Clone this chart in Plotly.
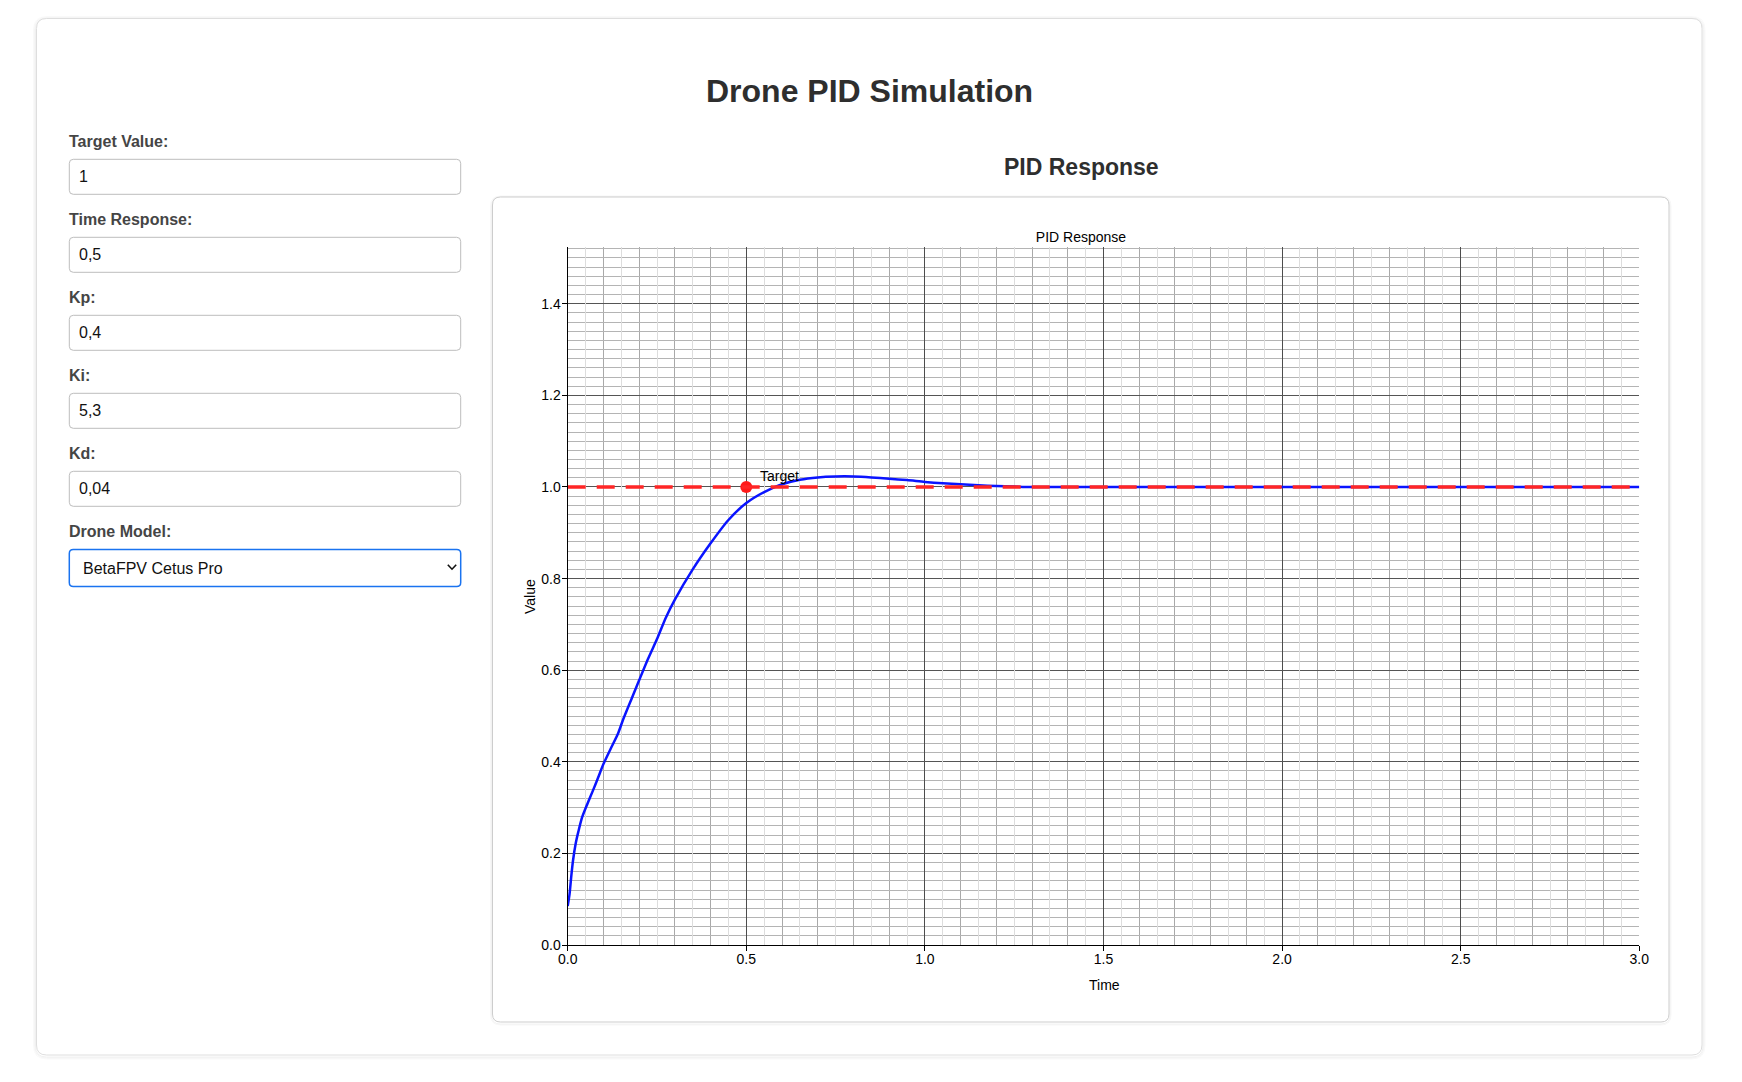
import plotly.graph_objects as go

# page texts
page_title = "Drone PID Simulation"
section_title = "PID Response"
field_labels = ["Target Value:", "Time Response:", "Kp:", "Ki:", "Kd:", "Drone Model:"]
field_values = ["1", "0,5", "0,4", "5,3", "0,04"]
drone_model = "BetaFPV Cetus Pro"

# chart data
time = [0.0, 0.005, 0.01, 0.015, 0.0225, 0.03, 0.04, 0.055, 0.07, 0.085, 0.1, 0.12,
        0.14, 0.156, 0.18, 0.2, 0.225, 0.25, 0.275, 0.3, 0.35, 0.4, 0.45, 0.5, 0.55,
        0.6, 0.65, 0.7, 0.75, 0.8, 0.85, 0.9, 0.95, 1.0, 1.05, 1.1, 1.15, 1.2, 1.25,
        1.3, 1.4, 1.5, 1.75, 2.0, 2.25, 2.5, 2.75, 3.0]
response = [0.085, 0.11, 0.15, 0.185, 0.222, 0.248, 0.278, 0.308, 0.336, 0.365, 0.395, 0.428,
            0.46, 0.494, 0.54, 0.578, 0.625, 0.668, 0.715, 0.754, 0.82, 0.877, 0.928, 0.965, 0.989,
            1.006, 1.016, 1.021, 1.023, 1.023, 1.021, 1.018, 1.015, 1.011, 1.008, 1.006, 1.004, 1.002, 1.001,
            1.0, 1.0, 1.0, 1.0, 1.0, 1.0, 1.0, 1.0, 1.0]
target_value = 1.0
target_time = 0.5
time_span = [0.0, 3.0]
value_span = [0.0, 1.524]

W, H = 1742, 1082
FONT = "Liberation Sans, Arial, Helvetica, sans-serif"


def px(x):
    return x / W


def py(y):
    return 1 - y / H


def rrect(x0, y0, x1, y1, r, line, fill="white", width=1, layer="below"):
    rx, ry = r / W, r / H
    X0, X1, YT, YB = px(x0), px(x1), py(y0), py(y1)
    path = (f"M {X0+rx},{YT} L {X1-rx},{YT} Q {X1},{YT} {X1},{YT-ry} "
            f"L {X1},{YB+ry} Q {X1},{YB} {X1-rx},{YB} L {X0+rx},{YB} "
            f"Q {X0},{YB} {X0},{YB+ry} L {X0},{YT-ry} Q {X0},{YT} {X0+rx},{YT} Z")
    return dict(type="path", path=path, xref="paper", yref="paper",
                line=dict(color=line, width=width), fillcolor=fill, layer=layer)


fig = go.Figure()

fig.add_trace(go.Scatter(x=time, y=response, mode="lines",
                         line=dict(color="#0a14ff", width=2.5, shape="spline", smoothing=0.7),
                         hoverinfo="skip"))
fig.add_trace(go.Scatter(x=time_span, y=[target_value, target_value], mode="lines",
                         xaxis="x2", line=dict(color="#ff2626", width=3.5, dash="18px,11px"),
                         hoverinfo="skip"))
fig.add_trace(go.Scatter(x=[target_time], y=[target_value], mode="markers",
                         marker=dict(color="#ff1a1a", size=12), hoverinfo="skip"))

shapes = []
# outer card with a soft shadow
for i, a in enumerate([0.025, 0.04, 0.06]):
    d = 3 - i
    shapes.append(rrect(36.5 - d, 18.5 - d + 1, 1702 + d, 1055 + d + 1, 10 + d,
                        f"rgba(0,0,0,{a})", fill="rgba(0,0,0,0)"))
shapes.append(rrect(36.5, 18.5, 1702, 1055, 10, "#dedede"))
# chart card
for i, a in enumerate([0.03, 0.05]):
    d = 2 - i
    shapes.append(rrect(492.5 - d, 197 - d + 1, 1669 + d, 1022 + d + 1, 8 + d,
                        f"rgba(0,0,0,{a})", fill="rgba(0,0,0,0)"))
shapes.append(rrect(492.5, 197, 1669, 1022, 8, "#cdcdcd"))
# input boxes
for i in range(len(field_values)):
    top = 159.3 + 78 * i
    shapes.append(rrect(69.3, top, 460.7, top + 35, 4, "#bdbdbd", layer="above"))
# select box
shapes.append(rrect(69.3, 549.5, 460.7, 586.5, 4, "#1a73f0", width=1.5, layer="above"))
shapes.append(dict(type="path", xref="paper", yref="paper", layer="above",
                   path=f"M {px(447.8)},{py(564.8)} L {px(452)},{py(569.2)} L {px(456.2)},{py(564.8)}",
                   line=dict(color="#111", width=1.6)))

ann = []
ann.append(dict(text=f"<b>{page_title}</b>", x=px(869), y=py(90.5), xref="paper", yref="paper",
                xanchor="center", yanchor="middle", showarrow=False,
                font=dict(family=FONT, size=32, color="#2e2e2e")))
ann.append(dict(text=f"<b>{section_title}</b>", x=px(1081), y=py(167), xref="paper", yref="paper",
                xanchor="center", yanchor="middle", showarrow=False,
                font=dict(family=FONT, size=23, color="#2e2e2e")))
for i, lab in enumerate(field_labels):
    ann.append(dict(text=f"<b>{lab}</b>", x=px(66.5), y=py(141.7 + 78 * i), xref="paper", yref="paper",
                    xanchor="left", yanchor="middle", showarrow=False,
                    font=dict(family=FONT, size=16, color="#454545")))
for i, val in enumerate(field_values):
    ann.append(dict(text=val, x=px(76.5), y=py(176.5 + 78 * i), xref="paper", yref="paper",
                    xanchor="left", yanchor="middle", showarrow=False,
                    font=dict(family=FONT, size=16, color="#111")))
ann.append(dict(text=drone_model, x=px(80.5), y=py(568), xref="paper", yref="paper",
                xanchor="left", yanchor="middle", showarrow=False,
                font=dict(family=FONT, size=16, color="#111")))
ann.append(dict(text="Time", x=px(1104), y=py(985), xref="paper", yref="paper",
                xanchor="center", yanchor="middle", showarrow=False,
                font=dict(family=FONT, size=14, color="#000")))
ann.append(dict(text="Value", x=px(530), y=py(597), xref="paper", yref="paper", textangle=-90,
                xanchor="center", yanchor="middle", showarrow=False,
                font=dict(family=FONT, size=14, color="#000")))
ann.append(dict(text="Target", x=target_time, y=target_value, xref="x", yref="y",
                xanchor="left", yanchor="bottom", xshift=12, yshift=1, showarrow=False,
                font=dict(family=FONT, size=14, color="#000")))

fig.update_layout(
    width=W, height=H, template="none",
    margin=dict(l=0, r=0, t=0, b=0, pad=0),
    paper_bgcolor="white", plot_bgcolor="white",
    font=dict(family=FONT, size=14, color="#000"),
    showlegend=False,
    title=dict(text=section_title, x=px(1081), y=py(237.5), xref="paper", yref="paper",
               xanchor="center", yanchor="middle", font=dict(family=FONT, size=14, color="#000")),
    xaxis=dict(domain=[px(567.7), px(1639.3)], range=time_span, anchor="y",
               dtick=0.5, tick0=0, tickformat=".1f",
               showgrid=True, gridcolor="#4d4d4d", gridwidth=1, zeroline=False,
               minor=dict(dtick=0.1, tick0=0, showgrid=True, gridcolor="#a9a9a9", gridwidth=1),
               showline=True, linecolor="#000", linewidth=1.3,
               ticks="outside", ticklen=5, tickwidth=1, tickcolor="#000",
               ticklabelstandoff=-4,
               tickfont=dict(size=14, color="#000")),
    xaxis2=dict(overlaying="x", range=time_span, anchor="y", tick0=0.05, dtick=0.1,
                showgrid=True, gridcolor="#dddddd", gridwidth=1, zeroline=False,
                showticklabels=False, ticks="", showline=False),
    yaxis=dict(domain=[py(945), py(247)], range=value_span, anchor="x",
               dtick=0.2, tick0=0, tickformat=".1f",
               showgrid=True, gridcolor="#555555", gridwidth=1, zeroline=False,
               minor=dict(dtick=0.02, tick0=0, showgrid=True, gridcolor="#b4b4b4", gridwidth=1),
               showline=True, linecolor="#000", linewidth=1.3,
               ticks="outside", ticklen=5, tickwidth=1, tickcolor="#000",
               ticklabelstandoff=-2,
               tickfont=dict(size=14, color="#000")),
    shapes=shapes,
    annotations=ann,
)

fig.write_html("out.html", config={"displayModeBar": False},
               post_script="document.body.style.margin='0';document.body.style.overflow='hidden';")
